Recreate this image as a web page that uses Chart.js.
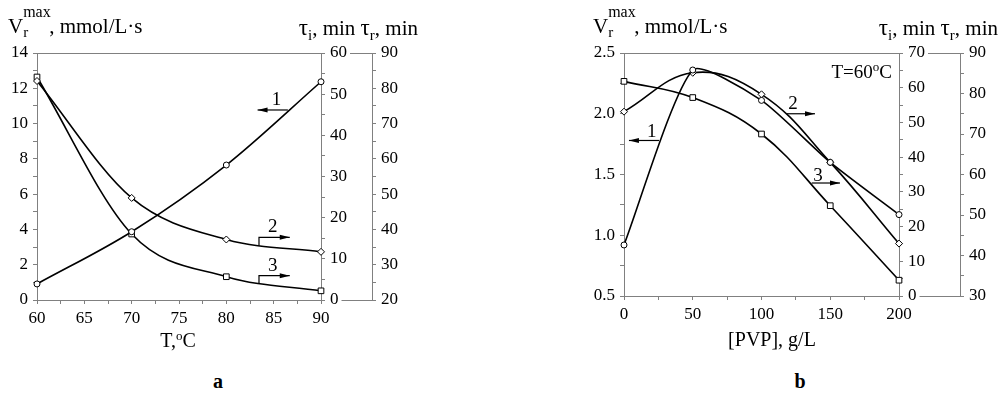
<!DOCTYPE html>
<html>
<head>
<meta charset="utf-8">
<script src="https://cdn.jsdelivr.net/npm/chart.js@4.4.1/dist/chart.umd.min.js"></script>
<style>
  body { margin: 0; width: 999px; height: 394px; overflow: hidden; position: relative; background: #fff; font-family: "Liberation Serif", serif; color: #000; }
  canvas { position: absolute; top: 0; }
  .t { position: absolute; font-size: 21px; line-height: 1; white-space: nowrap; }
  .ss { display: inline-block; position: relative; width: 26px; }
  .ss .up { position: absolute; left: 0; top: -0.75em; font-size: 16px; }
  .ss .dn { position: relative; top: 0.25em; font-size: 15px; }
  .sb { font-size: 15px; position: relative; top: 0.3em; }
  .tau { font-size: 23px; }
  .sp { font-size: 13px; position: relative; top: -0.55em; }
  .c { position: absolute; width: 200px; text-align: center; font-size: 20px; line-height: 1; }
</style>
</head>
<body>
<canvas id="chartA" width="422" height="330" style="left:0"></canvas>
<canvas id="chartB" width="423" height="330" style="left:587px"></canvas>

<div class="t" style="left:8px;top:16px">V<span class="ss"><span class="up">max</span><span class="dn">r</span></span>, mmol/L·s</div>
<div class="t" style="right:581px;top:16px"><span class="tau">τ</span><span class="sb">i</span>, min <span class="tau">τ</span><span class="sb">r</span>, min</div>
<div class="t" style="left:593px;top:16px">V<span class="ss"><span class="up">max</span><span class="dn">r</span></span>, mmol/L·s</div>
<div class="t" style="right:1px;top:16px"><span class="tau">τ</span><span class="sb">i</span>, min <span class="tau">τ</span><span class="sb">r</span>, min</div>
<div class="t" style="right:107px;top:62px;font-size:19px">T=60<span class="sp">o</span>C</div>

<div class="c" style="left:78px;top:330px">T,<span class="sp">o</span>C</div>
<div class="c" style="left:672px;top:329px">[PVP], g/L</div>
<div class="c" style="left:118px;top:371px;font-weight:bold">a</div>
<div class="c" style="left:700px;top:371px;font-weight:bold">b</div>

<script>
// panel a: temperature series
const tempC = [60, 70, 80, 90];
const vmaxA = [0.91, 3.87, 7.65, 12.37];   // curve 1, left axis
const tauIA = [53.2, 24.8, 14.7, 11.7];    // curve 2, tau_i
const tauRA = [83.2, 38.7, 26.6, 22.6];    // curve 3, tau_r

// panel b: PVP series
const pvp = [0, 50, 100, 150, 200];
const vmaxB = [0.92, 2.36, 2.11, 1.60, 1.17];
const tauIB = [53.1, 64.3, 58.1, 38.5, 15.1];
const tauRB = [83.0, 79.0, 70.0, 52.3, 33.9];

const GRAY = '#808080';
const TICK_FONT = 17;
Chart.defaults.font.family = '"Liberation Serif", serif';
Chart.defaults.font.size = TICK_FONT;
Chart.defaults.color = '#000';

function pts(xs, ys) { return xs.map((x, i) => ({ x: x, y: ys[i] })); }

function line(data, axis, style, r, extra) {
  return Object.assign({
    data: data, yAxisID: axis, borderColor: '#000', borderWidth: 1.6,
    pointStyle: style, pointRadius: r, pointBackgroundColor: '#fff',
    pointBorderColor: '#000', pointBorderWidth: 1, fill: false, clip: false
  }, extra || {});
}

function axis(pos, min, max, step, every, fmt, size, weight) {
  const horiz = pos === 'bottom';
  return {
    type: 'linear', position: pos, min: min, max: max, weight: weight || 0,
    ticks: {
      stepSize: step, autoSkip: false, maxRotation: 0, padding: horiz ? 4 : 5,
      callback: v => (Math.abs(v / every - Math.round(v / every)) < 1e-6 ? fmt(v) : '')
    },
    grid: { drawOnChartArea: false, color: GRAY, tickLength: 4 },
    border: { color: GRAY },
    afterFit: s => { if (horiz) s.height = size; else s.width = size; }
  };
}

// labels 1/2/3 with arrows, given in data units of x and the left axis
function deco(notes) {
  return {
    id: 'deco',
    afterDraw(chart) {
      const ctx = chart.ctx, a = chart.chartArea, sx = chart.scales.x, sy = chart.scales.y;
      const y1 = chart.scales.y1, y2 = chart.scales.y2;
      ctx.save();
      ctx.strokeStyle = GRAY; ctx.lineWidth = 1;
      ctx.beginPath(); ctx.moveTo(a.left, a.top + 0.5); ctx.lineTo(a.right, a.top + 0.5); ctx.stroke();
      ctx.font = TICK_FONT + 'px "Liberation Serif"';
      const top = ctx.measureText(String(y1.max)).width, bot = ctx.measureText(String(y1.min)).width;
      ctx.beginPath();
      ctx.moveTo(y1.left + 9 + top + 3, a.top + 0.5); ctx.lineTo(y2.left, a.top + 0.5);
      ctx.moveTo(y1.left + 9 + bot + 3, a.bottom + 0.5); ctx.lineTo(y2.left, a.bottom + 0.5);
      ctx.stroke();

      ctx.strokeStyle = '#000'; ctx.fillStyle = '#000'; ctx.lineWidth = 1.2;
      ctx.font = '19px "Liberation Serif"'; ctx.textAlign = 'center'; ctx.textBaseline = 'middle';
      notes.forEach(n => {
        ctx.fillText(n.text, sx.getPixelForValue(n.tx), sy.getPixelForValue(n.ty));
        const p = n.path.map(q => [sx.getPixelForValue(q[0]), sy.getPixelForValue(q[1])]);
        ctx.beginPath(); ctx.moveTo(p[0][0], p[0][1]);
        for (let i = 1; i < p.length; i++) ctx.lineTo(p[i][0], p[i][1]);
        ctx.stroke();
        const e = p[p.length - 1], s = p[p.length - 2];
        const ang = Math.atan2(e[1] - s[1], e[0] - s[0]);
        ctx.beginPath();
        ctx.moveTo(e[0], e[1]);
        ctx.lineTo(e[0] - 10 * Math.cos(ang) + 2.5 * Math.sin(ang), e[1] - 10 * Math.sin(ang) - 2.5 * Math.cos(ang));
        ctx.lineTo(e[0] - 10 * Math.cos(ang) - 2.5 * Math.sin(ang), e[1] - 10 * Math.sin(ang) + 2.5 * Math.cos(ang));
        ctx.closePath(); ctx.fill();
      });
      ctx.restore();
    }
  };
}

const common = {
  responsive: false, animation: false,
  plugins: { legend: { display: false }, tooltip: { enabled: false } }
};

new Chart(document.getElementById('chartA'), {
  type: 'line',
  data: {
    datasets: [
      line(pts(tempC, vmaxA), 'y', 'circle', 3, { cubicInterpolationMode: 'monotone' }),
      line(pts(tempC, tauIA), 'y1', 'rectRot', 3.5, { cubicInterpolationMode: 'monotone' }),
      line(pts(tempC, tauRA), 'y2', 'rect', 4, { cubicInterpolationMode: 'monotone' })
    ]
  },
  options: Object.assign({}, common, {
    layout: { padding: { top: 53, left: 0, right: 0, bottom: 0 } },
    scales: {
      x: axis('bottom', 60, 90, 2.5, 5, v => String(v), 30),
      y: axis('left', 0, 14, 1, 2, v => String(v), 37),
      y1: axis('right', 0, 60, 5, 10, v => String(v), 51, 0),
      y2: axis('right', 20, 90, 5, 10, v => String(v), 50, 1)
    }
  }),
  plugins: [deco([
    { text: '1', tx: 85.3, ty: 11.35, path: [[86.5, 10.77], [83.3, 10.77]] },
    { text: '2', tx: 84.9, ty: 4.15, path: [[83.45, 3.08], [83.45, 3.55], [86.7, 3.55]] },
    { text: '3', tx: 84.9, ty: 1.93, path: [[83.45, 0.96], [83.45, 1.38], [86.7, 1.38]] }
  ])]
});

new Chart(document.getElementById('chartB'), {
  type: 'line',
  data: {
    datasets: [
      line(pts(pvp, vmaxB), 'y', 'circle', 3, { tension: 0.2 }),
      line(pts(pvp, tauIB), 'y1', 'rectRot', 3.5, { tension: 0.4 }),
      line(pts(pvp, tauRB), 'y2', 'rect', 4, { tension: 0.4 })
    ]
  },
  options: Object.assign({}, common, {
    layout: { padding: { top: 53, left: 0, right: 0, bottom: 0 } },
    scales: {
      x: axis('bottom', 0, 200, 25, 50, v => String(v), 34),
      y: axis('left', 0.5, 2.5, 0.25, 0.5, v => v.toFixed(1), 37),
      y1: axis('right', 0, 70, 5, 10, v => String(v), 61, 0),
      y2: axis('right', 30, 90, 5, 10, v => String(v), 50, 1)
    }
  }),
  plugins: [deco([
    { text: '1', tx: 20.1, ty: 1.85, path: [[25.5, 1.78], [3.6, 1.78]] },
    { text: '2', tx: 122.9, ty: 2.08, path: [[118.3, 2.0], [138.9, 2.0]] },
    { text: '3', tx: 141.1, ty: 1.49, path: [[136.5, 1.43], [157.1, 1.43]] }
  ])]
});
</script>
</body>
</html>
